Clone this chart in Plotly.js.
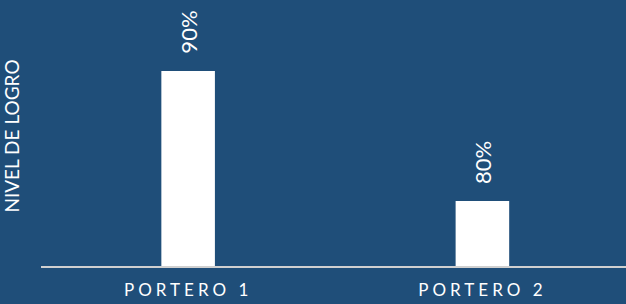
<!DOCTYPE html>
<html>
<head>
<meta charset="utf-8">
<script src="https://cdn.plot.ly/plotly-3.0.1.min.js"></script>
<style>
  html, body { margin: 0; padding: 0; background: #1F4E79; }
  #chart { width: 626px; height: 304px; }
  .xtick text { letter-spacing: 4px; }
</style>
</head>
<body>
<div id="chart"></div>
<script>
const categories = ["PORTERO 1", "PORTERO 2"];
const values = [90, 80];
const labels = ["90%", "80%"];
const yTitle = "NIVEL DE LOGRO";

const FONT = "Lato, 'Open Sans', sans-serif";

const trace = {
  type: "bar",
  x: categories,
  y: values,
  marker: { color: "#FFFFFF", line: { width: 0 } },
  hoverinfo: "none"
};

const annotations = categories.map((c, i) => ({
  x: c,
  y: values[i],
  xref: "x",
  yref: "y",
  text: labels[i],
  showarrow: false,
  textangle: -90,
  xanchor: "center",
  yanchor: "bottom",
  yshift: 15,
  font: { family: FONT, size: 22, color: "#FFFFFF" }
}));

const layout = {
  width: 626,
  height: 304,
  paper_bgcolor: "#1F4E79",
  plot_bgcolor: "#1F4E79",
  margin: { l: 41, r: 0, t: 6, b: 38, pad: 0 },
  bargap: 0.818,
  showlegend: false,
  font: { family: FONT, color: "#FFFFFF" },
  xaxis: {
    type: "category",
    range: [-0.5, 1.488],
    showline: true,
    linecolor: "#D0D0D0",
    linewidth: 2,
    ticks: "",
    showgrid: false,
    zeroline: false,
    ticklabelstandoff: 8,
    tickfont: { family: FONT, size: 17, color: "#FFFFFF" },
    fixedrange: true
  },
  yaxis: {
    range: [75, 95],
    showticklabels: false,
    showgrid: false,
    zeroline: false,
    showline: false,
    ticks: "",
    title: { text: yTitle, font: { family: FONT, size: 19, color: "#FFFFFF" }, standoff: 16 },
    fixedrange: true
  },
  annotations: annotations
};

Plotly.newPlot("chart", [trace], layout, { displayModeBar: false, staticPlot: true });
</script>
</body>
</html>
